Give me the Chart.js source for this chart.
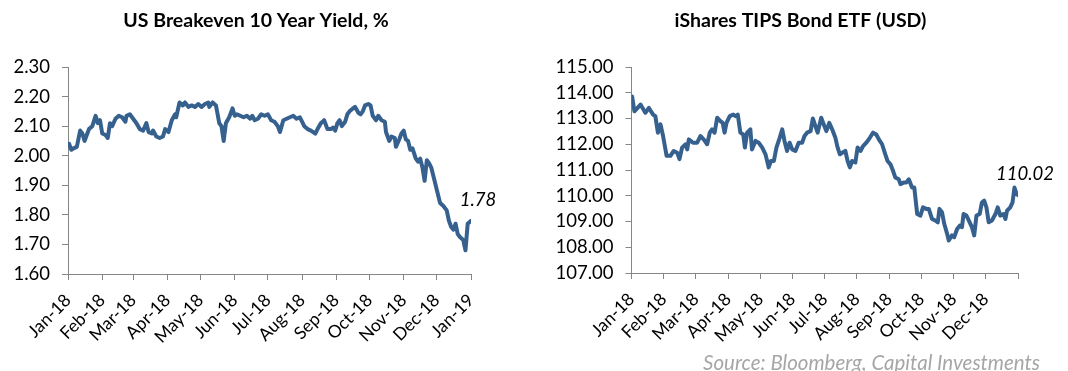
<!DOCTYPE html>
<html>
<head>
<meta charset="utf-8">
<script src="https://cdn.jsdelivr.net/npm/chart.js@4.4.1/dist/chart.umd.min.js"></script>
<style>
  html, body { margin: 0; padding: 0; background: #fff; }
  #wrap { position: relative; width: 1068px; height: 371px; overflow: hidden; }
  .box { position: absolute; top: 0; width: 534px; height: 371px; }
</style>
</head>
<body>
<div id="wrap">
  <div class="box" style="left:0"><canvas id="breakevenChart" width="534" height="371"></canvas></div>
  <div class="box" style="left:534px"><canvas id="tipsChart" width="534" height="371"></canvas></div>
</div>
<script>
// --- Data: US Breakeven 10Y (x = day of 2018, 0 = 1 Jan) ---
const breakevenDays = [1,3,5,8,11,13,15,17,19,22,25,27,29,31,34,36,38,40,43,46,
  49,52,53,56,59,62,65,68,71,73,76,77,80,83,86,88,91,94,97,98,
  101,104,106,109,112,115,118,121,124,127,128,131,134,137,139,141,143,146,149,151,
  153,156,159,162,165,167,169,172,175,178,181,184,187,190,192,195,198,201,204,207,
  210,212,214,217,220,224,226,229,232,235,238,240,242,244,246,248,251,253,255,258,
  260,263,265,267,269,272,274,276,279,281,284,287,288,291,293,296,297,300,302,304,
  306,308,310,312,315,317,319,321,323,325,327,329,332,334,337,340,343,345,347,349,
  351,353,355,358,360,361,362,365];
const breakevenValues = [2.04,2.02,2.025,2.03,2.085,2.075,2.05,2.07,2.09,2.10,
  2.135,2.11,2.12,2.075,2.07,2.06,2.11,2.10,2.125,2.135,
  2.13,2.115,2.135,2.14,2.125,2.11,2.09,2.085,2.11,2.08,
  2.075,2.085,2.065,2.06,2.065,2.09,2.08,2.12,2.14,2.13,
  2.18,2.17,2.18,2.165,2.17,2.165,2.175,2.165,2.175,2.18,
  2.165,2.18,2.17,2.11,2.10,2.05,2.11,2.13,2.16,2.135,
  2.14,2.135,2.13,2.135,2.125,2.135,2.12,2.125,2.14,2.135,
  2.14,2.12,2.115,2.10,2.08,2.12,2.125,2.13,2.135,2.125,
  2.13,2.115,2.10,2.09,2.085,2.075,2.09,2.11,2.12,2.09,
  2.09,2.095,2.085,2.11,2.12,2.10,2.115,2.14,2.15,2.16,
  2.165,2.145,2.14,2.15,2.17,2.175,2.17,2.135,2.12,2.135,
  2.12,2.115,2.08,2.05,2.065,2.06,2.03,2.055,2.075,2.085,
  2.055,2.05,2.02,2.025,1.99,1.98,1.99,1.96,1.915,1.985,
  1.975,1.96,1.915,1.885,1.84,1.83,1.815,1.78,1.76,1.75,
  1.77,1.735,1.725,1.715,1.68,1.725,1.77,1.78];
const breakevenTickDays = [0,31,59,90,120,151,181,212,243,273,304,334,365];
const breakevenTickLabels = ['Jan-18','Feb-18','Mar-18','Apr-18','May-18','Jun-18','Jul-18',
  'Aug-18','Sep-18','Oct-18','Nov-18','Dec-18','Jan-19'];
const breakevenYTicks = [1.6, 1.7, 1.8, 1.9, 2.0, 2.1, 2.2, 2.3];

// --- Data: iShares TIPS ETF (x = months since 1 Jan 2018) ---
const tipsMonths = [0.02,0.09,0.28,0.43,0.54,0.67,0.74,0.82,0.90,0.98,
  1.09,1.21,1.31,1.42,1.49,1.57,1.68,1.73,1.78,1.91,
  2.04,2.14,2.24,2.35,2.43,2.50,2.58,2.66,2.76,2.83,
  2.89,2.95,3.05,3.16,3.23,3.30,3.38,3.47,3.52,3.59,
  3.69,3.74,3.85,3.95,4.06,4.16,4.26,4.33,4.42,4.50,
  4.60,4.68,4.75,4.83,4.91,4.99,5.09,5.19,5.30,5.37,
  5.45,5.56,5.63,5.71,5.78,5.89,5.99,6.05,6.14,6.23,
  6.33,6.40,6.47,6.54,6.64,6.71,6.78,6.85,6.95,7.02,
  7.11,7.19,7.29,7.40,7.50,7.60,7.68,7.78,7.88,7.95,
  8.04,8.12,8.19,8.30,8.35,8.45,8.53,8.61,8.71,8.78,
  8.87,8.97,9.05,9.15,9.23,9.33,9.43,9.51,9.56,9.64,
  9.71,9.80,9.85,9.95,10.02,10.11,10.19,10.26,10.31,10.40,
  10.50,10.57,10.64,10.71,10.81,10.88,10.95,11.02,11.09,11.19,
  11.30,11.37,11.45,11.55,11.61,11.66,11.76,11.83,11.89,11.94,
  12.0];
const tipsValues = [113.85,113.28,113.54,113.22,113.41,113.15,113.09,112.45,112.77,112.32,
  111.55,111.55,111.74,111.67,111.42,111.87,112.00,111.80,112.19,112.06,
  112.06,112.32,112.19,112.00,112.45,112.58,112.45,113.03,112.90,112.83,
  112.45,112.83,113.09,113.15,113.09,113.15,112.45,112.38,111.87,112.45,
  112.58,111.80,112.13,112.06,111.87,111.61,111.10,111.35,111.35,111.87,
  112.25,112.58,112.13,111.74,112.06,111.80,111.74,112.06,112.06,112.32,
  112.45,112.51,113.00,112.70,112.45,113.03,112.70,112.51,112.83,112.58,
  112.25,111.87,111.61,111.67,111.74,111.35,111.10,111.35,111.29,111.87,
  111.74,111.93,112.06,112.25,112.45,112.38,112.19,112.00,111.61,111.35,
  111.22,110.97,110.71,110.64,110.45,110.51,110.51,110.64,110.32,110.32,
  109.29,109.23,109.55,109.49,109.49,109.10,109.04,108.97,109.49,109.36,
  108.91,108.52,108.26,108.46,108.39,108.71,108.84,108.78,109.29,109.23,
  108.97,108.78,108.46,109.23,109.29,109.74,109.81,109.55,108.97,109.04,
  109.29,109.55,109.23,109.29,109.10,109.42,109.55,109.74,110.32,110.13,
  110.02];
const tipsTickMonths = [0,1,2,3,4,5,6,7,8,9,10,11,12];
const tipsTickLabels = ['Jan-18','Feb-18','Mar-18','Apr-18','May-18','Jun-18','Jul-18',
  'Aug-18','Sep-18','Oct-18','Nov-18','Dec-18',''];
const tipsYTicks = [107, 108, 109, 110, 111, 112, 113, 114, 115];

const FONT = "Lato, 'Liberation Sans', sans-serif";
const LINE_COLOR = '#36618f';
const AXIS_COLOR = '#868686';

Chart.defaults.font.family = FONT;
Chart.defaults.color = '#000';

// --- Titles, last-value label and source note ---
const extraText = {
    id: 'extraText',
    afterDraw(chart, args, opts) {
        const ctx = chart.ctx;
        const xs = chart.scales.x;
        const ys = chart.scales.y;
        const pts = chart.data.datasets[0].data;
        const last = pts[pts.length - 1];
        ctx.save();
        ctx.fillStyle = '#000';
        ctx.textAlign = 'center';
        ctx.textBaseline = 'middle';
        ctx.font = 'bold 19.5px ' + FONT;
        ctx.fillText(opts.title, opts.titleX, 21);
        ctx.font = 'italic 18.5px ' + FONT;
        ctx.fillText(last.y.toFixed(2), xs.getPixelForValue(last.x) + 7, ys.getPixelForValue(last.y) - 21);
        if (opts.source) {
            ctx.font = 'italic 20.5px ' + FONT;
            ctx.fillStyle = '#a6a6a6';
            ctx.textAlign = 'right';
            ctx.fillText(opts.source, 506, 363);
        }
        ctx.restore();
    }
};

function buildChart(canvasId, cfg) {
    const points = cfg.xs.map((x, i) => ({ x: x, y: cfg.ys[i] }));
    return new Chart(document.getElementById(canvasId), {
        type: 'line',
        data: {
            datasets: [{
                data: points,
                borderColor: LINE_COLOR,
                borderWidth: 4,
                pointRadius: 0,
                tension: 0,
                borderJoinStyle: 'round',
                borderCapStyle: 'round'
            }]
        },
        options: {
            responsive: false,
            animation: false,
            devicePixelRatio: 1,
            layout: { padding: cfg.padding },
            plugins: {
                legend: { display: false },
                tooltip: { enabled: false },
                extraText: { title: cfg.title, titleX: cfg.titleX, source: cfg.source }
            },
            scales: {
                x: {
                    type: 'linear',
                    min: cfg.xTicks[0],
                    max: cfg.xTicks[cfg.xTicks.length - 1],
                    afterBuildTicks: (scale) => { scale.ticks = cfg.xTicks.map(v => ({ value: v })); },
                    afterFit: (scale) => { scale.height = cfg.xAxisHeight; },
                    ticks: {
                        autoSkip: false,
                        minRotation: 45,
                        maxRotation: 45,
                        padding: 10,
                        font: { size: 17.5 },
                        color: '#000',
                        callback: (v, i) => cfg.xLabels[i]
                    },
                    grid: { drawOnChartArea: false, tickLength: 6, color: AXIS_COLOR },
                    border: { color: AXIS_COLOR, width: 1 }
                },
                y: {
                    min: cfg.yTicks[0],
                    max: cfg.yTicks[cfg.yTicks.length - 1],
                    afterBuildTicks: (scale) => { scale.ticks = cfg.yTicks.map(v => ({ value: v })); },
                    afterFit: (scale) => { scale.width = cfg.yAxisWidth; },
                    ticks: {
                        padding: 12,
                        font: { size: 18.5 },
                        color: '#000',
                        callback: (v) => Number(v).toFixed(2)
                    },
                    grid: { drawOnChartArea: false, tickLength: 6, color: AXIS_COLOR },
                    border: { color: AXIS_COLOR, width: 1 }
                }
            }
        },
        plugins: [extraText]
    });
}

buildChart('breakevenChart', {
    xs: breakevenDays, ys: breakevenValues,
    xTicks: breakevenTickDays, xLabels: breakevenTickLabels, yTicks: breakevenYTicks,
    title: 'US Breakeven 10 Year Yield, %', titleX: 256,
    padding: { top: 67, left: 0, right: 63, bottom: 0 },
    yAxisWidth: 68, xAxisHeight: 97
});

buildChart('tipsChart', {
    xs: tipsMonths, ys: tipsValues,
    xTicks: tipsTickMonths, xLabels: tipsTickLabels, yTicks: tipsYTicks,
    title: 'iShares TIPS Bond ETF (USD)', titleX: 266.5,
    source: 'Source: Bloomberg, Capital Investments',
    padding: { top: 67, left: 0, right: 50, bottom: 0 },
    yAxisWidth: 97.5, xAxisHeight: 98
});
</script>
</body>
</html>
